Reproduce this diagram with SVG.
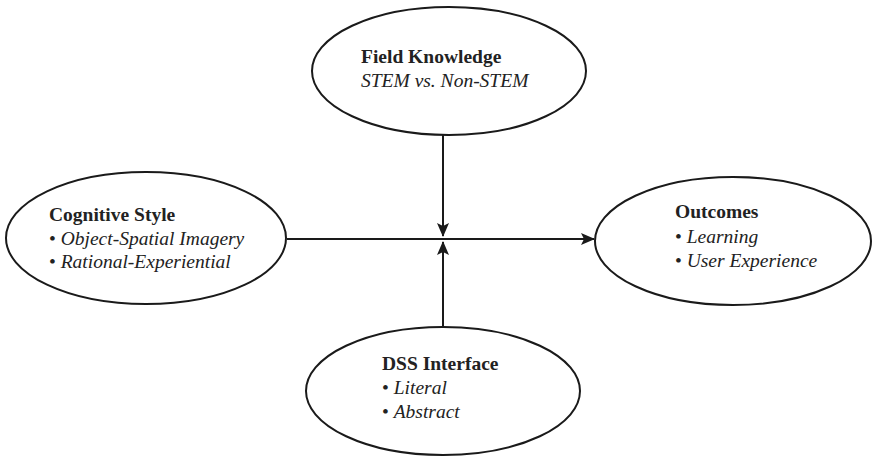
<svg xmlns="http://www.w3.org/2000/svg" width="874" height="457" viewBox="0 0 874 457">
  <style>
    .node { fill: #fff; stroke: #1a1a1a; stroke-width: 2; }
    .edge { stroke: #1a1a1a; stroke-width: 2; fill: none; }
    text { font-family: "Liberation Serif", "Times New Roman", serif; font-size: 19.5px; fill: #222; }
    .h { font-weight: bold; }
    .i { font-style: italic; }
  </style>
  <defs>
    <marker id="arrow" viewBox="0 0 14 12" refX="13" refY="6" markerWidth="14" markerHeight="12" markerUnits="userSpaceOnUse" orient="auto">
      <path d="M0,0 L14,6 L0,12 L3,6 Z" fill="#1a1a1a"/>
    </marker>
  </defs>
  <rect width="874" height="457" fill="#fff"/>

  <g id="connectors">
    <line class="edge" x1="287" y1="239" x2="594" y2="239" marker-end="url(#arrow)"/>
    <line class="edge" x1="443" y1="135" x2="443" y2="236" marker-end="url(#arrow)"/>
    <line class="edge" x1="443" y1="327" x2="443" y2="242" marker-end="url(#arrow)"/>
  </g>

  <g id="field-knowledge">
    <ellipse class="node" cx="449" cy="71" rx="137" ry="64"/>
    <text x="361" y="63" class="h">Field Knowledge</text>
    <text x="361" y="87" class="i">STEM vs. Non-STEM</text>
  </g>

  <g id="cognitive-style">
    <ellipse class="node" cx="146" cy="238" rx="140" ry="66"/>
    <text x="49" y="221" class="h">Cognitive Style</text>
    <text x="49" y="245">• <tspan class="i">Object-Spatial Imagery</tspan></text>
    <text x="49" y="268">• <tspan class="i">Rational-Experiential</tspan></text>
  </g>

  <g id="outcomes">
    <ellipse class="node" cx="733" cy="241" rx="138" ry="64"/>
    <text x="675" y="218" class="h">Outcomes</text>
    <text x="675" y="243">• <tspan class="i">Learning</tspan></text>
    <text x="675" y="267">• <tspan class="i">User Experience</tspan></text>
  </g>

  <g id="dss-interface">
    <ellipse class="node" cx="443" cy="391" rx="137" ry="64"/>
    <text x="382" y="370" class="h">DSS Interface</text>
    <text x="382" y="394">• <tspan class="i">Literal</tspan></text>
    <text x="382" y="418">• <tspan class="i">Abstract</tspan></text>
  </g>
</svg>
